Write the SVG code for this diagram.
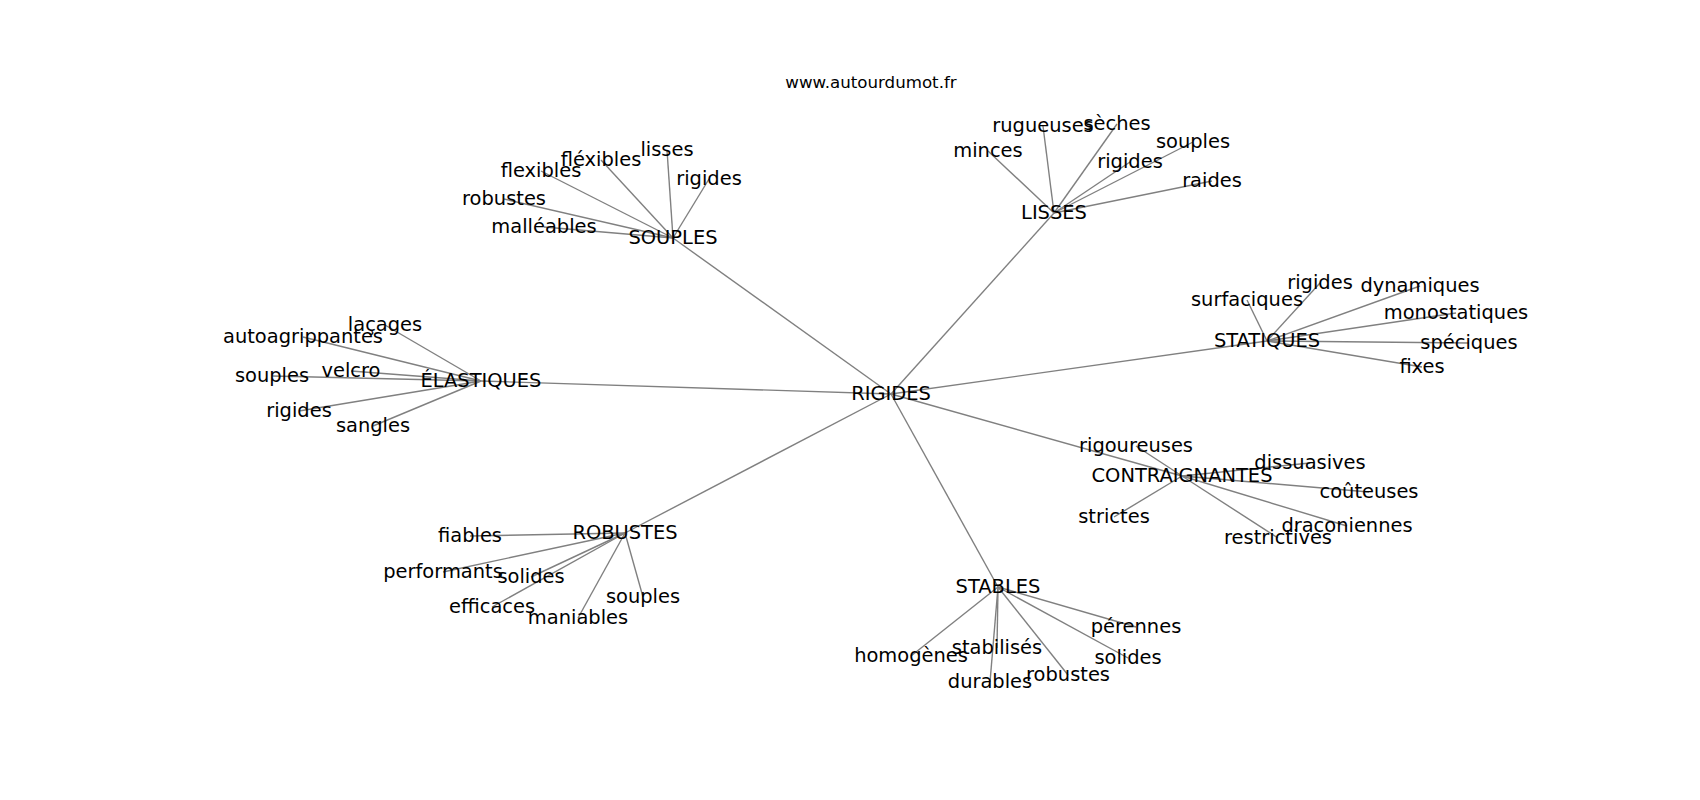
<svg xmlns="http://www.w3.org/2000/svg" width="1700" height="800" viewBox="0 0 1700 800">
<style>
.bg{fill:#ffffff}
.e line{stroke:#808080;stroke-width:1.4}
text{font-family:"DejaVu Sans","Liberation Sans",sans-serif;font-size:19.44px;fill:#000000;text-anchor:middle}
.title{font-size:16.67px}
</style>
<rect class="bg" x="0" y="0" width="1700" height="800"/>
<text class="title" x="871" y="88">www.autourdumot.fr</text>
<g id="connectors" class="e">
<line x1="891" y1="394" x2="673" y2="238"/>
<line x1="891" y1="394" x2="1054" y2="213"/>
<line x1="891" y1="394" x2="481" y2="381"/>
<line x1="891" y1="394" x2="1267" y2="341"/>
<line x1="891" y1="394" x2="1182" y2="476"/>
<line x1="891" y1="394" x2="625" y2="533"/>
<line x1="891" y1="394" x2="998" y2="587"/>
<line x1="673" y1="238" x2="541" y2="171"/>
<line x1="673" y1="238" x2="601" y2="160"/>
<line x1="673" y1="238" x2="667" y2="150"/>
<line x1="673" y1="238" x2="709" y2="179"/>
<line x1="673" y1="238" x2="504" y2="199"/>
<line x1="673" y1="238" x2="544" y2="227"/>
<line x1="1054" y1="213" x2="988" y2="151"/>
<line x1="1054" y1="213" x2="1043" y2="126"/>
<line x1="1054" y1="213" x2="1117" y2="124"/>
<line x1="1054" y1="213" x2="1193" y2="142"/>
<line x1="1054" y1="213" x2="1130" y2="162"/>
<line x1="1054" y1="213" x2="1212" y2="181"/>
<line x1="481" y1="381" x2="385" y2="325"/>
<line x1="481" y1="381" x2="303" y2="337"/>
<line x1="481" y1="381" x2="272" y2="376"/>
<line x1="481" y1="381" x2="351" y2="371"/>
<line x1="481" y1="381" x2="299" y2="411"/>
<line x1="481" y1="381" x2="373" y2="426"/>
<line x1="1267" y1="341" x2="1247" y2="300"/>
<line x1="1267" y1="341" x2="1320" y2="283"/>
<line x1="1267" y1="341" x2="1420" y2="286"/>
<line x1="1267" y1="341" x2="1456" y2="313"/>
<line x1="1267" y1="341" x2="1469" y2="343"/>
<line x1="1267" y1="341" x2="1422" y2="367"/>
<line x1="1182" y1="476" x2="1136" y2="446"/>
<line x1="1182" y1="476" x2="1310" y2="463"/>
<line x1="1182" y1="476" x2="1369" y2="492"/>
<line x1="1182" y1="476" x2="1347" y2="526"/>
<line x1="1182" y1="476" x2="1278" y2="538"/>
<line x1="1182" y1="476" x2="1114" y2="517"/>
<line x1="625" y1="533" x2="470" y2="536"/>
<line x1="625" y1="533" x2="443" y2="572"/>
<line x1="625" y1="533" x2="531" y2="577"/>
<line x1="625" y1="533" x2="492" y2="607"/>
<line x1="625" y1="533" x2="578" y2="618"/>
<line x1="625" y1="533" x2="643" y2="597"/>
<line x1="998" y1="587" x2="1136" y2="627"/>
<line x1="998" y1="587" x2="1128" y2="658"/>
<line x1="998" y1="587" x2="1068" y2="675"/>
<line x1="998" y1="587" x2="990" y2="682"/>
<line x1="998" y1="587" x2="997" y2="648"/>
<line x1="998" y1="587" x2="911" y2="656"/>
</g>
<g id="n-rigides"><text x="891" y="400">RIGIDES</text></g>
<g id="n-souples"><text x="673" y="244">SOUPLES</text></g>
<g id="n-souples-flexibles"><text x="541" y="177">flexibles</text></g>
<g id="n-souples-flexibles2"><text x="601" y="166">fléxibles</text></g>
<g id="n-souples-lisses"><text x="667" y="156">lisses</text></g>
<g id="n-souples-rigides"><text x="709" y="185">rigides</text></g>
<g id="n-souples-robustes"><text x="504" y="205">robustes</text></g>
<g id="n-souples-malleables"><text x="544" y="233">malléables</text></g>
<g id="n-lisses"><text x="1054" y="219">LISSES</text></g>
<g id="n-lisses-minces"><text x="988" y="157">minces</text></g>
<g id="n-lisses-rugueuses"><text x="1043" y="132">rugueuses</text></g>
<g id="n-lisses-seches"><text x="1117" y="130">sèches</text></g>
<g id="n-lisses-souples"><text x="1193" y="148">souples</text></g>
<g id="n-lisses-rigides"><text x="1130" y="168">rigides</text></g>
<g id="n-lisses-raides"><text x="1212" y="187">raides</text></g>
<g id="n-elastiques"><text x="481" y="387">ÉLASTIQUES</text></g>
<g id="n-elastiques-lacages"><text x="385" y="331">laçages</text></g>
<g id="n-elastiques-autoagrippantes"><text x="303" y="343">autoagrippantes</text></g>
<g id="n-elastiques-souples"><text x="272" y="382">souples</text></g>
<g id="n-elastiques-velcro"><text x="351" y="377">velcro</text></g>
<g id="n-elastiques-rigides"><text x="299" y="417">rigides</text></g>
<g id="n-elastiques-sangles"><text x="373" y="432">sangles</text></g>
<g id="n-statiques"><text x="1267" y="347">STATIQUES</text></g>
<g id="n-statiques-surfaciques"><text x="1247" y="306">surfaciques</text></g>
<g id="n-statiques-rigides"><text x="1320" y="289">rigides</text></g>
<g id="n-statiques-dynamiques"><text x="1420" y="292">dynamiques</text></g>
<g id="n-statiques-monostatiques"><text x="1456" y="319">monostatiques</text></g>
<g id="n-statiques-speciques"><text x="1469" y="349">spéciques</text></g>
<g id="n-statiques-fixes"><text x="1422" y="373">fixes</text></g>
<g id="n-contraignantes"><text x="1182" y="482">CONTRAIGNANTES</text></g>
<g id="n-contraignantes-rigoureuses"><text x="1136" y="452">rigoureuses</text></g>
<g id="n-contraignantes-dissuasives"><text x="1310" y="469">dissuasives</text></g>
<g id="n-contraignantes-couteuses"><text x="1369" y="498">coûteuses</text></g>
<g id="n-contraignantes-draconiennes"><text x="1347" y="532">draconiennes</text></g>
<g id="n-contraignantes-restrictives"><text x="1278" y="544">restrictives</text></g>
<g id="n-contraignantes-strictes"><text x="1114" y="523">strictes</text></g>
<g id="n-robustes"><text x="625" y="539">ROBUSTES</text></g>
<g id="n-robustes-fiables"><text x="470" y="542">fiables</text></g>
<g id="n-robustes-performants"><text x="443" y="578">performants</text></g>
<g id="n-robustes-solides"><text x="531" y="583">solides</text></g>
<g id="n-robustes-efficaces"><text x="492" y="613">efficaces</text></g>
<g id="n-robustes-maniables"><text x="578" y="624">maniables</text></g>
<g id="n-robustes-souples"><text x="643" y="603">souples</text></g>
<g id="n-stables"><text x="998" y="593">STABLES</text></g>
<g id="n-stables-perennes"><text x="1136" y="633">pérennes</text></g>
<g id="n-stables-solides"><text x="1128" y="664">solides</text></g>
<g id="n-stables-robustes"><text x="1068" y="681">robustes</text></g>
<g id="n-stables-durables"><text x="990" y="688">durables</text></g>
<g id="n-stables-stabilises"><text x="997" y="654">stabilisés</text></g>
<g id="n-stables-homogenes"><text x="911" y="662">homogènes</text></g>
</svg>
